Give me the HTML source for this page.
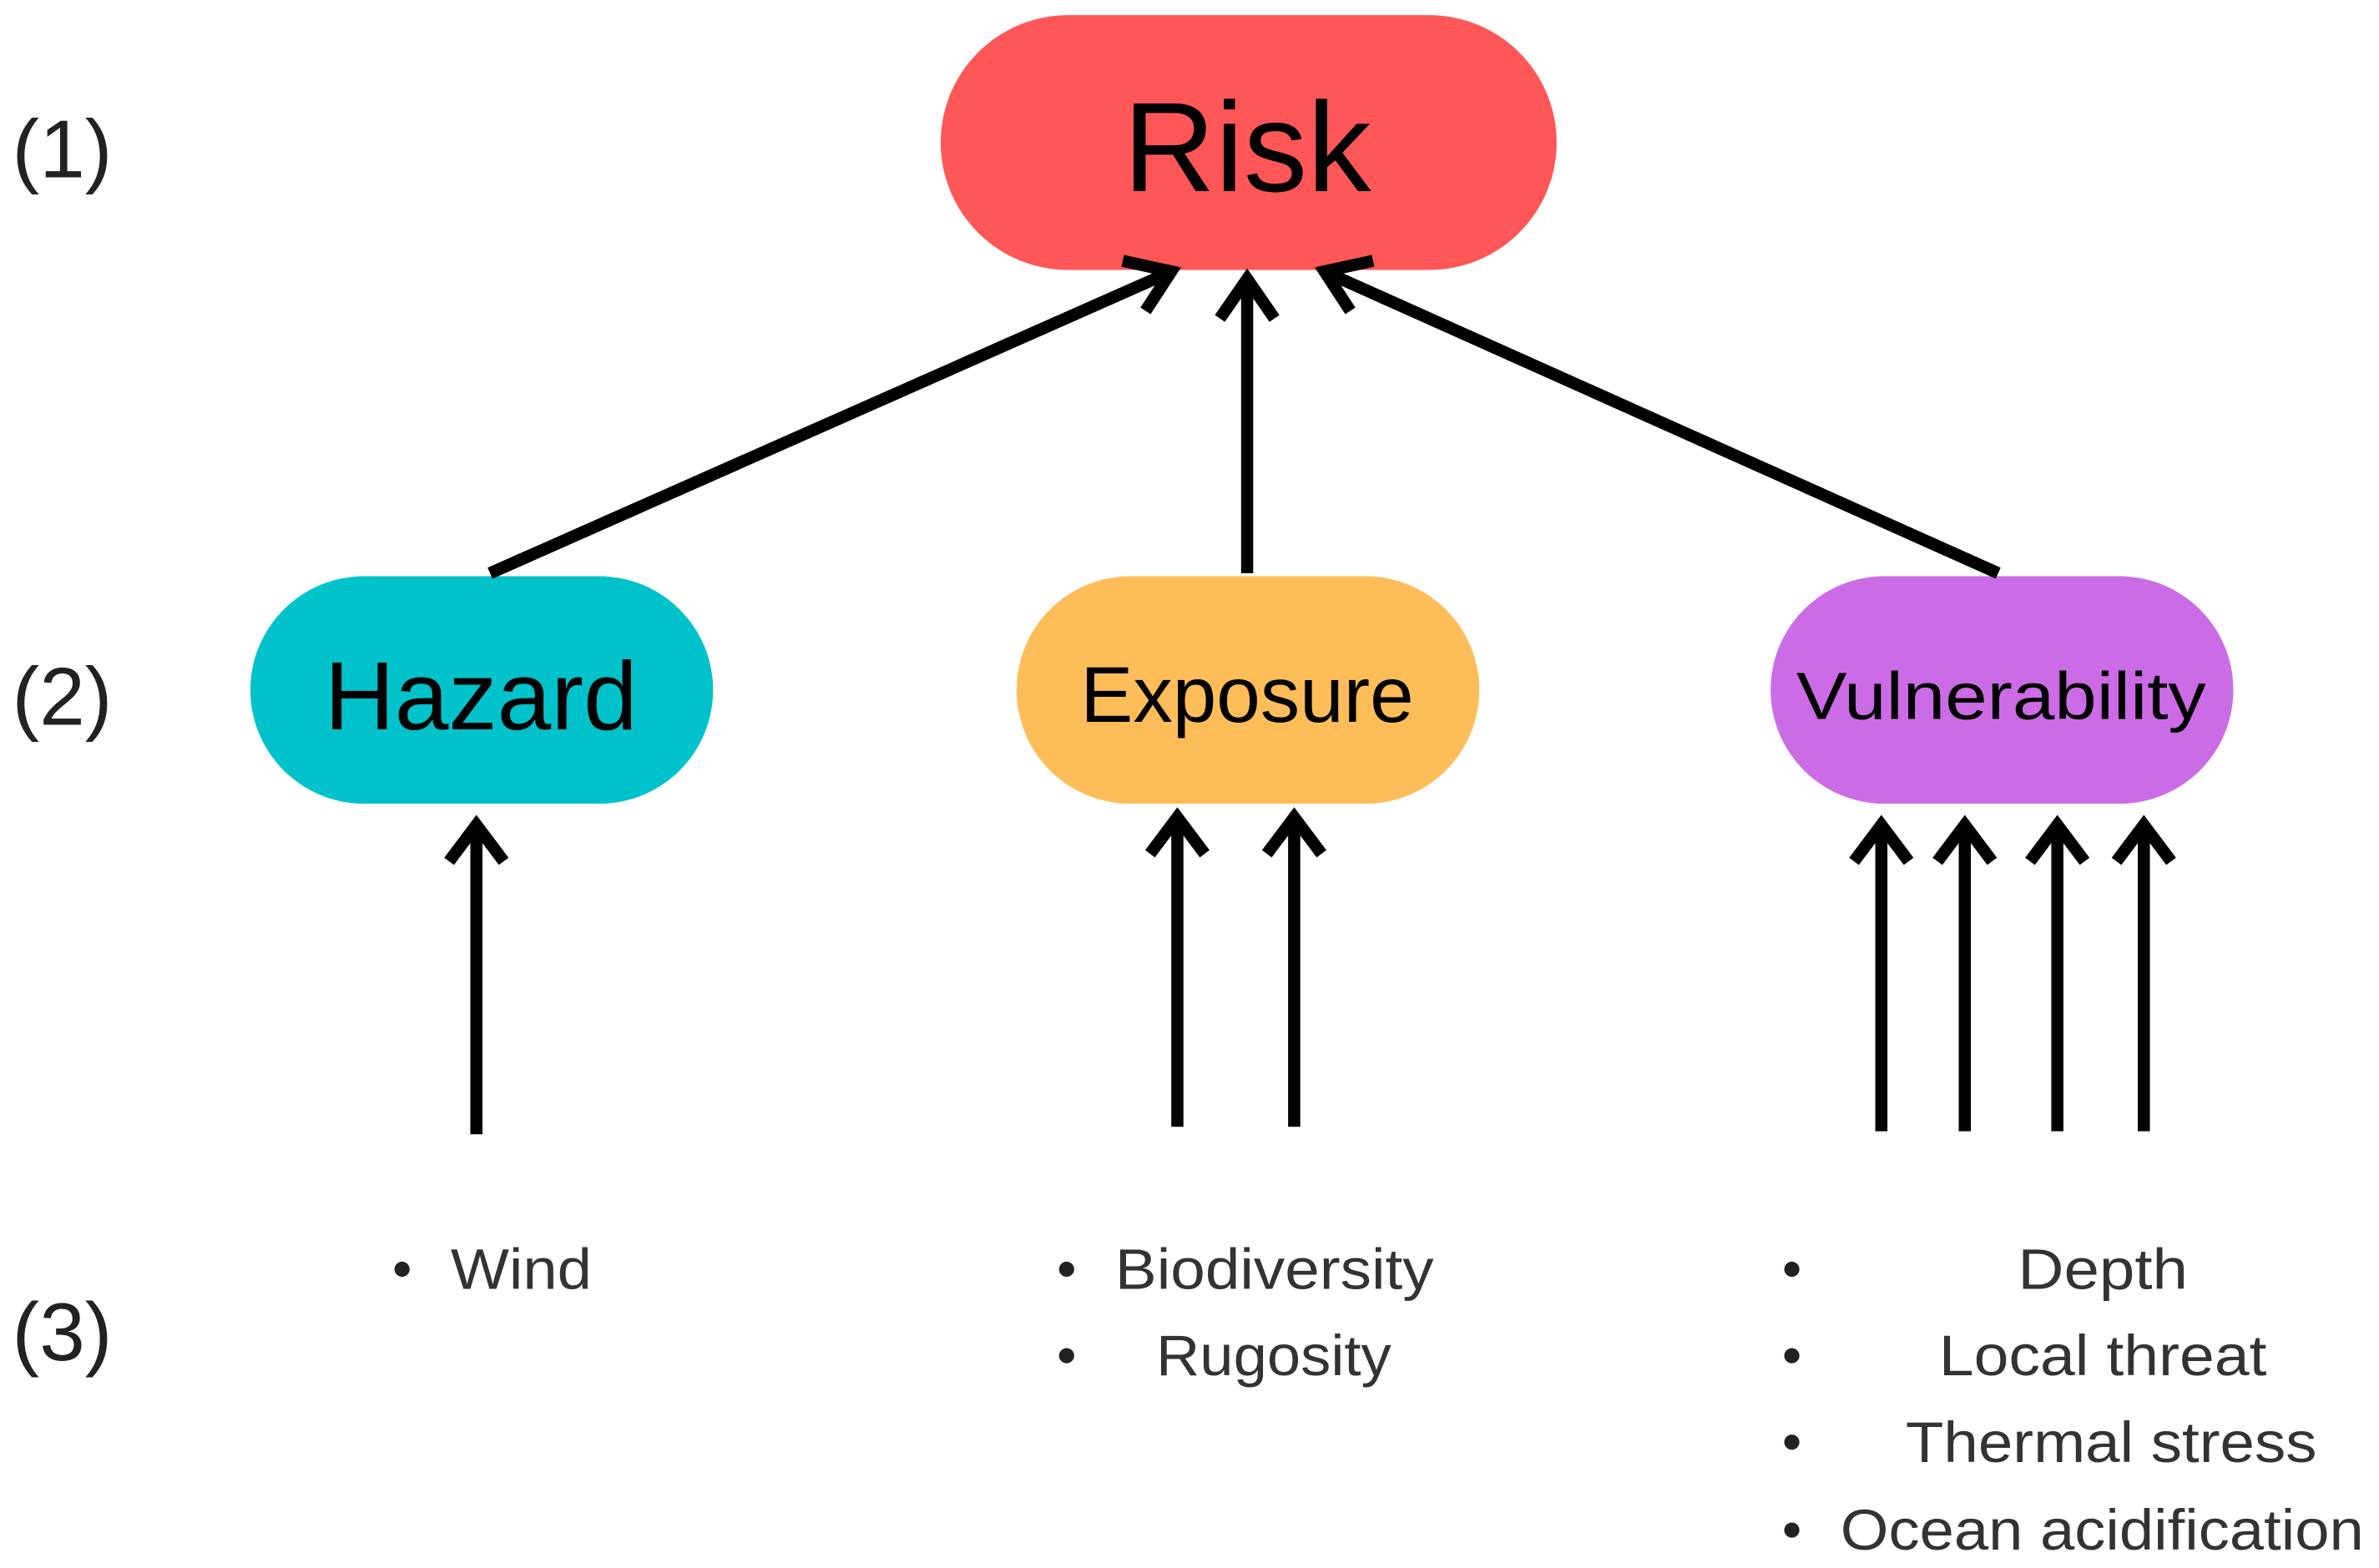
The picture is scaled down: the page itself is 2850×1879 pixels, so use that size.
<!DOCTYPE html>
<html><head><meta charset="utf-8"><style>
html,body{margin:0;padding:0;background:#fff;}
svg{display:block;}
text{font-family:"Liberation Sans","DejaVu Sans",sans-serif;}
</style></head><body>
<svg width="2850" height="1879" viewBox="0 0 1568 1034" preserveAspectRatio="none" xmlns="http://www.w3.org/2000/svg">
<defs>
<marker id="ah" viewBox="0 0 30 30" refX="15" refY="4" markerWidth="30" markerHeight="30" markerUnits="userSpaceOnUse" orient="auto-start-reverse">
</marker>
</defs>
<!-- nodes -->
<rect x="620" y="10" width="406" height="168" rx="84" fill="#ff5757"/>
<rect x="165" y="380" width="305" height="150" rx="75" fill="#00c2cb"/>
<rect x="670" y="380" width="305" height="150" rx="75" fill="#ffbd59"/>
<rect x="1167" y="380" width="305" height="150" rx="75" fill="#cb6ce6"/>
<text x="822" y="126" font-size="84" text-anchor="middle" fill="#000">Risk</text>
<text x="317" y="481" font-size="64" text-anchor="middle" fill="#000">Hazard</text>
<text x="822" y="476" font-size="52" text-anchor="middle" fill="#000">Exposure</text>
<text x="1319" y="474" font-size="44" text-anchor="middle" fill="#000" textLength="270" lengthAdjust="spacingAndGlyphs">Vulnerability</text>
<!-- level labels -->
<g font-size="54" fill="#222">
<text x="8" y="117">(1)</text>
<text x="8" y="478">(2)</text>
<text x="8" y="897">(3)</text>
</g>
<!-- connectors -->
<g stroke="#000" stroke-width="8" fill="none" stroke-linecap="butt" stroke-linejoin="miter">
<line x1="323" y1="378" x2="770" y2="180"/>
<polyline points="740,172 772,179 755,205"/>
<line x1="822" y1="378" x2="822" y2="184"/>
<polyline points="804,210 822,184 840,210"/>
<line x1="1317" y1="378" x2="875" y2="180"/>
<polyline points="890,205 873,179 905,172"/>
<line x1="314" y1="748" x2="314" y2="544"/>
<polyline points="296,568 314,544 332,568"/>
<line x1="776" y1="743" x2="776" y2="539"/>
<polyline points="758,563 776,539 794,563"/>
<line x1="853" y1="743" x2="853" y2="539"/>
<polyline points="835,563 853,539 871,563"/>
<line x1="1240" y1="746" x2="1240" y2="544"/>
<polyline points="1222,568 1240,544 1258,568"/>
<line x1="1295" y1="746" x2="1295" y2="544"/>
<polyline points="1277,568 1295,544 1313,568"/>
<line x1="1356" y1="746" x2="1356" y2="544"/>
<polyline points="1338,568 1356,544 1374,568"/>
<line x1="1413" y1="746" x2="1413" y2="544"/>
<polyline points="1395,568 1413,544 1431,568"/>
</g>
<!-- bullets -->
<g fill="#222">
<circle cx="265" cy="837" r="5"/>
<circle cx="703" cy="837" r="5"/>
<circle cx="703" cy="894" r="5"/>
<circle cx="1181" cy="837" r="5"/>
<circle cx="1181" cy="894" r="5"/>
<circle cx="1181" cy="951" r="5"/>
<circle cx="1181" cy="1009" r="5"/>
</g>
<g font-size="38" fill="#333">
<text x="297" y="850" textLength="93" lengthAdjust="spacingAndGlyphs">Wind</text>
<text x="735" y="850" textLength="210" lengthAdjust="spacingAndGlyphs">Biodiversity</text>
<text x="762" y="907" textLength="155" lengthAdjust="spacingAndGlyphs">Rugosity</text>
<text x="1330" y="850" textLength="112" lengthAdjust="spacingAndGlyphs">Depth</text>
<text x="1278" y="907" textLength="216" lengthAdjust="spacingAndGlyphs">Local threat</text>
<text x="1256" y="964" textLength="271" lengthAdjust="spacingAndGlyphs">Thermal stress</text>
<text x="1213" y="1022" textLength="345" lengthAdjust="spacingAndGlyphs">Ocean acidification</text>
</g>
</svg>
</body></html>
